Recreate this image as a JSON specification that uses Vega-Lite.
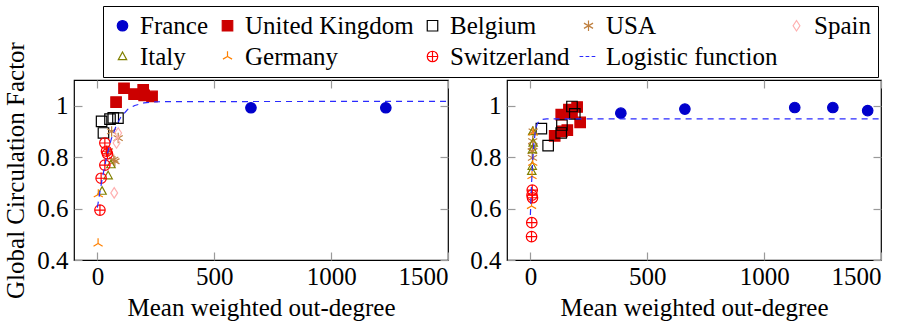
{
  "$schema": "https://vega.github.io/schema/vega-lite/v6.json",
  "background": "white",
  "padding": {"left": 3, "top": 5, "right": 5, "bottom": 5},
  "bounds": "flush",
  "spacing": 59,
  "config": {
    "font": "Liberation Serif, Times New Roman, serif",
    "view": {"stroke": "black", "strokeWidth": 1.2},
    "axis": {
      "labelFont": "Liberation Serif, Times New Roman, serif", "labelFontSize": 25, "labelColor": "black",
      "titleFont": "Liberation Serif, Times New Roman, serif", "titleFontSize": 25, "titleFontWeight": "normal", "titleColor": "black",
      "grid": false, "domain": false, "tickColor": "#9a9a9a", "tickSize": -8, "tickWidth": 1.2
    },
    "legend": {
      "orient": "none", "legendX": 29, "legendY": -74, "direction": "horizontal",
      "columns": 5, "gridAlign": "each", "columnPadding": 6, "rowPadding": 5,
      "strokeColor": "black", "padding": 7,
      "labelFont": "Liberation Serif, Times New Roman, serif", "labelFontSize": 25, "labelColor": "black", "labelLimit": 0,
      "symbolSize": 110, "symbolStrokeWidth": 1.2, "labelOffset": 5, "title": null
    }
  },
  "datasets": {
    "pts": [
      {"panel": "L", "series": "France", "x": 657, "y": 0.992},
      {"panel": "L", "series": "France", "x": 1234, "y": 0.992},
      {"panel": "L", "series": "United Kingdom", "x": 80, "y": 1.014},
      {"panel": "L", "series": "United Kingdom", "x": 114, "y": 1.068},
      {"panel": "L", "series": "United Kingdom", "x": 157, "y": 1.045},
      {"panel": "L", "series": "United Kingdom", "x": 196, "y": 1.062},
      {"panel": "L", "series": "United Kingdom", "x": 200, "y": 1.040},
      {"panel": "L", "series": "United Kingdom", "x": 234, "y": 1.036},
      {"panel": "L", "series": "Belgium", "x": 18, "y": 0.939},
      {"panel": "L", "series": "Belgium", "x": 26, "y": 0.894},
      {"panel": "L", "series": "Belgium", "x": 54, "y": 0.948},
      {"panel": "L", "series": "Belgium", "x": 68, "y": 0.953},
      {"panel": "L", "series": "Belgium", "x": 88, "y": 0.952},
      {"panel": "L", "series": "USA", "x": 61, "y": 0.900},
      {"panel": "L", "series": "USA", "x": 89, "y": 0.874},
      {"panel": "L", "series": "USA", "x": 47, "y": 0.823},
      {"panel": "L", "series": "USA", "x": 75, "y": 0.784},
      {"panel": "L", "series": "USA", "x": 70, "y": 0.790},
      {"panel": "L", "series": "Spain", "x": 89, "y": 0.894},
      {"panel": "L", "series": "Spain", "x": 82, "y": 0.855},
      {"panel": "L", "series": "Spain", "x": 72, "y": 0.661},
      {"panel": "L", "series": "Italy", "x": 20, "y": 0.668},
      {"panel": "L", "series": "Italy", "x": 46, "y": 0.728},
      {"panel": "L", "series": "Italy", "x": 58, "y": 0.771},
      {"panel": "L", "series": "Germany", "x": 3, "y": 0.464},
      {"panel": "L", "series": "Germany", "x": 4, "y": 0.655},
      {"panel": "L", "series": "Switzerland", "x": 32, "y": 0.855},
      {"panel": "L", "series": "Switzerland", "x": 39, "y": 0.823},
      {"panel": "L", "series": "Switzerland", "x": 43, "y": 0.813},
      {"panel": "L", "series": "Switzerland", "x": 32, "y": 0.769},
      {"panel": "L", "series": "Switzerland", "x": 16, "y": 0.718},
      {"panel": "L", "series": "Switzerland", "x": 11, "y": 0.594},
      {"panel": "R", "series": "France", "x": 387, "y": 0.971},
      {"panel": "R", "series": "France", "x": 661, "y": 0.987},
      {"panel": "R", "series": "France", "x": 1131, "y": 0.993},
      {"panel": "R", "series": "France", "x": 1294, "y": 0.993},
      {"panel": "R", "series": "France", "x": 1443, "y": 0.981},
      {"panel": "R", "series": "United Kingdom", "x": 104, "y": 0.883},
      {"panel": "R", "series": "United Kingdom", "x": 135, "y": 0.900},
      {"panel": "R", "series": "United Kingdom", "x": 158, "y": 0.905},
      {"panel": "R", "series": "United Kingdom", "x": 132, "y": 0.965},
      {"panel": "R", "series": "United Kingdom", "x": 165, "y": 0.985},
      {"panel": "R", "series": "United Kingdom", "x": 200, "y": 0.995},
      {"panel": "R", "series": "United Kingdom", "x": 213, "y": 0.935},
      {"panel": "R", "series": "United Kingdom", "x": 178, "y": 0.972},
      {"panel": "R", "series": "Belgium", "x": 47, "y": 0.911},
      {"panel": "R", "series": "Belgium", "x": 76, "y": 0.845},
      {"panel": "R", "series": "Belgium", "x": 132, "y": 0.894},
      {"panel": "R", "series": "Belgium", "x": 135, "y": 0.925},
      {"panel": "R", "series": "Belgium", "x": 178, "y": 0.997},
      {"panel": "R", "series": "Belgium", "x": 190, "y": 0.968},
      {"panel": "R", "series": "USA", "x": 12, "y": 0.900},
      {"panel": "R", "series": "USA", "x": 10, "y": 0.862},
      {"panel": "R", "series": "USA", "x": 11, "y": 0.842},
      {"panel": "R", "series": "USA", "x": 8, "y": 0.823},
      {"panel": "R", "series": "USA", "x": 9, "y": 0.797},
      {"panel": "R", "series": "Italy", "x": 10, "y": 0.900},
      {"panel": "R", "series": "Italy", "x": 12, "y": 0.855},
      {"panel": "R", "series": "Italy", "x": 9, "y": 0.829},
      {"panel": "R", "series": "Italy", "x": 8, "y": 0.765},
      {"panel": "R", "series": "Italy", "x": 6, "y": 0.745},
      {"panel": "R", "series": "Germany", "x": 10, "y": 0.778},
      {"panel": "R", "series": "Germany", "x": 7, "y": 0.726},
      {"panel": "R", "series": "Germany", "x": 5, "y": 0.610},
      {"panel": "R", "series": "Germany", "x": 12, "y": 0.895},
      {"panel": "R", "series": "Switzerland", "x": 8, "y": 0.672},
      {"panel": "R", "series": "Switzerland", "x": 7, "y": 0.652},
      {"panel": "R", "series": "Switzerland", "x": 9, "y": 0.642},
      {"panel": "R", "series": "Switzerland", "x": 6, "y": 0.545},
      {"panel": "R", "series": "Switzerland", "x": 5, "y": 0.491}
    ],
    "fit": [
      {"panel": "L", "x": 0, "y": 0.604},
      {"panel": "L", "x": 10, "y": 0.660},
      {"panel": "L", "x": 20, "y": 0.713},
      {"panel": "L", "x": 40, "y": 0.803},
      {"panel": "L", "x": 60, "y": 0.872},
      {"panel": "L", "x": 80, "y": 0.921},
      {"panel": "L", "x": 100, "y": 0.955},
      {"panel": "L", "x": 130, "y": 0.986},
      {"panel": "L", "x": 160, "y": 1.001},
      {"panel": "L", "x": 200, "y": 1.011},
      {"panel": "L", "x": 250, "y": 1.015},
      {"panel": "L", "x": 300, "y": 1.016},
      {"panel": "L", "x": 1500, "y": 1.017},
      {"panel": "R", "x": 0, "y": 0.575},
      {"panel": "R", "x": 5, "y": 0.696},
      {"panel": "R", "x": 10, "y": 0.789},
      {"panel": "R", "x": 15, "y": 0.852},
      {"panel": "R", "x": 20, "y": 0.892},
      {"panel": "R", "x": 25, "y": 0.917},
      {"panel": "R", "x": 30, "y": 0.931},
      {"panel": "R", "x": 40, "y": 0.943},
      {"panel": "R", "x": 50, "y": 0.947},
      {"panel": "R", "x": 70, "y": 0.949},
      {"panel": "R", "x": 1500, "y": 0.949}
    ]
  },
  "hconcat": [
    {
      "width": 374, "height": 180,
      "layer": [
        {
          "data": {"name": "pts"},
          "transform": [{"filter": "datum.panel === 'L'"}],
          "mark": {"type": "point", "opacity": 1, "strokeWidth": 1.2, "size": 110},
          "encoding": {
            "x": {"field": "x", "type": "quantitative", "scale": {"domain": [-100, 1500], "nice": false, "zero": false},
                  "axis": {"values": [0, 500, 1000, 1500], "format": "d", "title": "Mean weighted out-degree", "labelPadding": 12, "titlePadding": 6}},
            "y": {"field": "y", "type": "quantitative", "scale": {"domain": [0.4, 1.1], "nice": false, "zero": false},
                  "axis": {"values": [0.4, 0.6, 0.8, 1], "format": "~g", "title": "Global Circulation Factor", "labelPadding": 14, "titlePadding": 8}},
            "shape": {"field": "series", "type": "nominal",
                      "scale": {"domain": ["France", "United Kingdom", "Belgium", "USA", "Spain", "Italy", "Germany", "Switzerland", "Logistic function"],
                                "range": ["circle", "square", "square", "M0,-1L0,1M-0.87,-0.5L0.87,0.5M-0.87,0.5L0.87,-0.5", "M0,-1L0.65,0L0,1L-0.65,0Z", "M0,-0.85L0.8,0.6L-0.8,0.6Z", "M0,0L0,-1M0,0L-0.87,0.5M0,0L0.87,0.5", "M-1,0A1,1 0 1,0 1,0A1,1 0 1,0 -1,0ZM-1,0L1,0M0,-1L0,1", "M-1.7,0L-1.0,0M-0.55,0L0.15,0M0.6,0L1.3,0"]}},
            "fill": {"field": "series", "type": "nominal",
                     "scale": {"domain": ["France", "United Kingdom", "Belgium", "USA", "Spain", "Italy", "Germany", "Switzerland", "Logistic function"],
                               "range": ["#0000cc", "#cc0000", "transparent", "transparent", "transparent", "transparent", "transparent", "transparent", "transparent"]}},
            "stroke": {"field": "series", "type": "nominal",
                       "scale": {"domain": ["France", "United Kingdom", "Belgium", "USA", "Spain", "Italy", "Germany", "Switzerland", "Logistic function"],
                                 "range": ["#0000cc", "#cc0000", "black", "#bf8040", "#ffb0b0", "#808000", "#ff8000", "#ff0000", "#2a2aff"]}}
          }
        },
        {
          "data": {"name": "fit"},
          "transform": [{"filter": "datum.panel === 'L'"}],
          "mark": {"type": "line", "strokeDash": [6, 5], "color": "#2a2aff", "strokeWidth": 1.2},
          "encoding": {
            "x": {"field": "x", "type": "quantitative", "axis": {"orient": "top", "labels": false, "title": null, "values": [0, 500, 1000, 1500]}},
            "y": {"field": "y", "type": "quantitative", "axis": {"orient": "right", "labels": false, "title": null, "values": [0.4, 0.6, 0.8, 1]}}
          }
        }
      ],
      "resolve": {"axis": {"x": "independent", "y": "independent"}}
    },
    {
      "width": 374, "height": 180,
      "layer": [
        {
          "data": {"name": "pts"},
          "transform": [{"filter": "datum.panel === 'R'"}],
          "mark": {"type": "point", "opacity": 1, "strokeWidth": 1.2, "size": 110},
          "encoding": {
            "x": {"field": "x", "type": "quantitative", "scale": {"domain": [-100, 1500], "nice": false, "zero": false},
                  "axis": {"values": [0, 500, 1000, 1500], "format": "d", "title": "Mean weighted out-degree", "labelPadding": 12, "titlePadding": 6}},
            "y": {"field": "y", "type": "quantitative", "scale": {"domain": [0.4, 1.1], "nice": false, "zero": false},
                  "axis": {"values": [0.4, 0.6, 0.8, 1], "format": "~g", "title": null, "labelPadding": 14}},
            "shape": {"field": "series", "type": "nominal",
                      "scale": {"domain": ["France", "United Kingdom", "Belgium", "USA", "Spain", "Italy", "Germany", "Switzerland", "Logistic function"],
                                "range": ["circle", "square", "square", "M0,-1L0,1M-0.87,-0.5L0.87,0.5M-0.87,0.5L0.87,-0.5", "M0,-1L0.65,0L0,1L-0.65,0Z", "M0,-0.85L0.8,0.6L-0.8,0.6Z", "M0,0L0,-1M0,0L-0.87,0.5M0,0L0.87,0.5", "M-1,0A1,1 0 1,0 1,0A1,1 0 1,0 -1,0ZM-1,0L1,0M0,-1L0,1", "M-1.7,0L-1.0,0M-0.55,0L0.15,0M0.6,0L1.3,0"]}},
            "fill": {"field": "series", "type": "nominal",
                     "scale": {"domain": ["France", "United Kingdom", "Belgium", "USA", "Spain", "Italy", "Germany", "Switzerland", "Logistic function"],
                               "range": ["#0000cc", "#cc0000", "transparent", "transparent", "transparent", "transparent", "transparent", "transparent", "transparent"]}},
            "stroke": {"field": "series", "type": "nominal",
                       "scale": {"domain": ["France", "United Kingdom", "Belgium", "USA", "Spain", "Italy", "Germany", "Switzerland", "Logistic function"],
                                 "range": ["#0000cc", "#cc0000", "black", "#bf8040", "#ffb0b0", "#808000", "#ff8000", "#ff0000", "#2a2aff"]}}
          }
        },
        {
          "data": {"name": "fit"},
          "transform": [{"filter": "datum.panel === 'R'"}],
          "mark": {"type": "line", "strokeDash": [6, 5], "color": "#2a2aff", "strokeWidth": 1.2},
          "encoding": {
            "x": {"field": "x", "type": "quantitative", "axis": {"orient": "top", "labels": false, "title": null, "values": [0, 500, 1000, 1500]}},
            "y": {"field": "y", "type": "quantitative", "axis": {"orient": "right", "labels": false, "title": null, "values": [0.4, 0.6, 0.8, 1]}}
          }
        }
      ],
      "resolve": {"axis": {"x": "independent", "y": "independent"}}
    }
  ]
}
